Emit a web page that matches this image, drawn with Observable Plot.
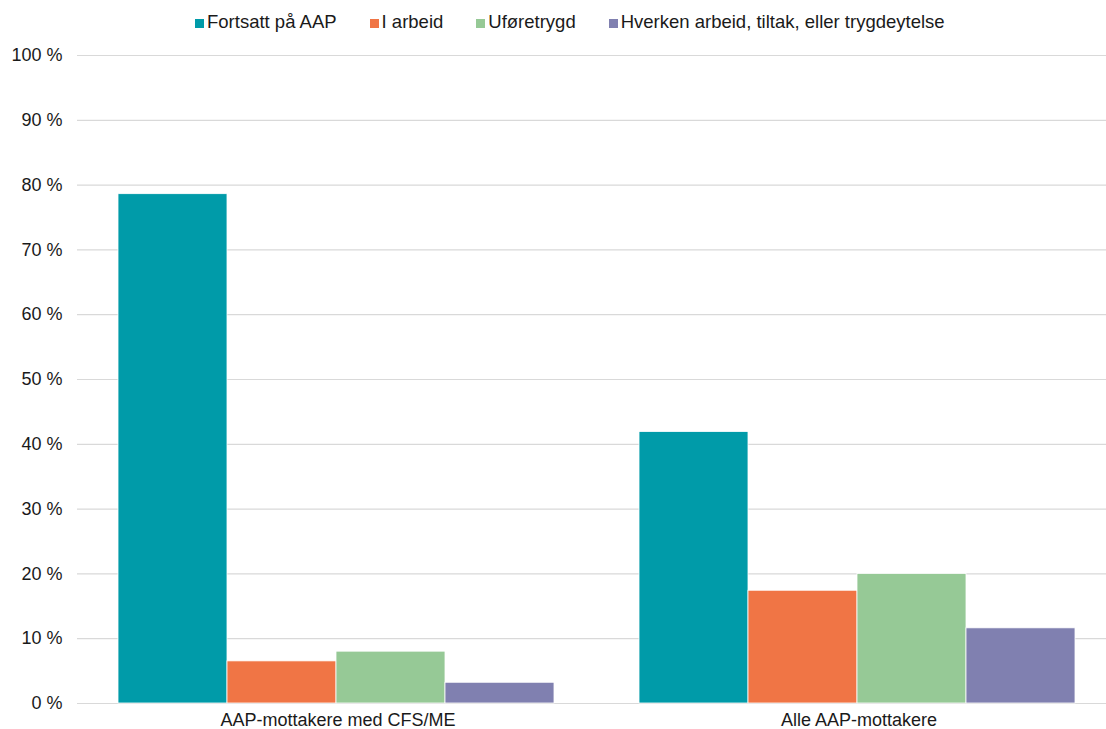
<!DOCTYPE html>
<html>
<head>
<meta charset="utf-8">
<script src="https://cdn.jsdelivr.net/npm/d3@7"></script>
<script src="https://cdn.jsdelivr.net/npm/@observablehq/plot@0.6"></script>
<style>
  html, body { margin: 0; padding: 0; background: #fff; overflow: hidden; }
  body { font-family: "Liberation Sans", Arial, Helvetica, sans-serif; color: #1a1a1a; }
  #legend { height: 40px; display: flex; align-items: center; padding-left: 195px; padding-top: 4px; box-sizing: border-box; gap: 33px; font-size: 18.5px; }
  .item { display: flex; align-items: center; }
  .sw { width: 9px; height: 9px; margin-right: 3px; margin-top: 3px; }
  #chart svg { display: block; overflow: visible; }
</style>
</head>
<body>
<div id="legend"></div>
<div id="chart"></div>
<script>
const groups = ["AAP-mottakere med CFS/ME", "Alle AAP-mottakere"];
const series = ["Fortsatt på AAP", "I arbeid", "Uføretrygd", "Hverken arbeid, tiltak, eller trygdeytelse"];
const colors = ["#009ba9", "#f07545", "#96c996", "#8080b0"];
const valuesCFS = [78.6, 6.5, 8.0, 3.2];
const valuesAll = [41.9, 17.4, 20.0, 11.6];
const yTicks = [0, 10, 20, 30, 40, 50, 60, 70, 80, 90, 100];

const data = [];
series.forEach((s, i) => {
  data.push({group: groups[0], series: s, value: valuesCFS[i]});
  data.push({group: groups[1], series: s, value: valuesAll[i]});
});

const legend = document.getElementById("legend");
series.forEach((s, i) => {
  const it = document.createElement("div");
  it.className = "item";
  const sw = document.createElement("span");
  sw.className = "sw";
  sw.style.background = colors[i];
  const t = document.createElement("span");
  t.textContent = s;
  it.appendChild(sw);
  it.appendChild(t);
  legend.appendChild(it);
});

const chart = Plot.plot({
  width: 1106,
  height: 689,
  marginLeft: 77,
  marginRight: -13,
  marginTop: 15,
  marginBottom: 26,
  style: {fontFamily: '"Liberation Sans", Arial, Helvetica, sans-serif', fontSize: "18px", color: "#1a1a1a", background: "#fff"},
  fx: {domain: groups, padding: 0, label: null, tickSize: 0, tickPadding: 10},
  x: {domain: series, axis: null, paddingInner: 0, paddingOuter: 0.374, align: 0.488},
  y: {domain: [0, 100], ticks: yTicks, tickFormat: d => d + " %", label: null, tickSize: 0, tickPadding: 15},
  color: {domain: series, range: colors},
  marks: [
    Plot.gridY(yTicks, {stroke: "#d9d9d9", strokeOpacity: 1, strokeWidth: 1.2}),
    Plot.barY(data, {fx: "group", x: "series", y: "value", fill: "series", stroke: "white", strokeWidth: 0.8}),
    Plot.axisY(yTicks, {tickSize: 0, tickPadding: 15, tickFormat: d => d + " %", fontSize: 18, label: null})
  ]
});
document.getElementById("chart").appendChild(chart);
</script>
</body>
</html>
